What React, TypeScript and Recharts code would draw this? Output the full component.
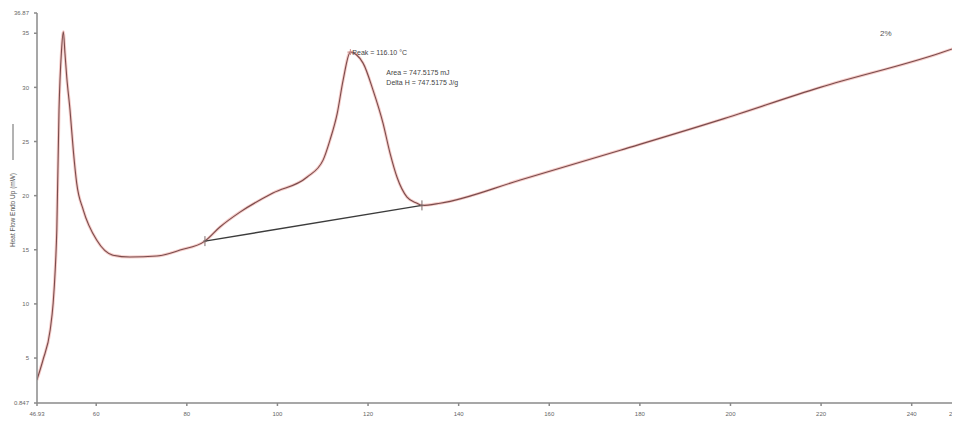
import React from "react";
import {
  ComposedChart,
  Line,
  XAxis,
  YAxis,
  ReferenceDot,
  Label,
} from "recharts";

// DSC heating scan: temperature (°C) vs heat flow (mW)
const temperatures = [
  46.9, 48.25, 49.84, 50.5, 50.95, 51.3, 51.79, 52.34, 52.74, 53.11, 53.49,
  54.22, 54.94, 55.69, 57.15, 60.1, 63.7, 67.46, 73.4, 78.5, 84.0, 87.3, 91.74,
  99.0, 106.5, 110.07, 111.6, 113.2, 114.5, 116.1, 118.9, 121.1, 123.3, 124.85,
  126.4, 128.6, 130.8, 131.9, 135.9, 153.6, 175.7, 197.7, 219.8, 246.3, 250,
];
const heatFlow = [
  2.97, 4.82, 7.59, 10.08, 13.13, 16.8, 27.9, 33.4, 35.13, 33.1, 30.98, 27.9,
  24.2, 21.16, 18.67, 15.9, 14.5, 14.33, 14.42, 14.97, 15.8, 17.1, 18.48,
  20.24, 21.7, 23.28, 25.13, 27.6, 30.67, 33.26, 32.24, 29.75, 26.7, 23.93,
  21.7, 19.87, 19.3, 19.1, 19.3, 21.44, 24.2, 27.0, 30.0, 33.17, 33.7,
];

// Integration baseline under the melting peak
const baselineTemps = [84.0, 131.9];
const baselineFlow = [15.8, 19.1];

// Peak result
const peakTemp = 116.1;
const peakFlow = 33.26;
const peakText = "Peak = 116.10 °C";
const areaText = "Area = 747.5175 mJ";
const deltaHText = "Delta H = 747.5175 J/g";
const sampleText = "2%";
const sampleTemp = 233;
const sampleFlow = 35.0;

const xTicks = [46.93, 60, 80, 100, 120, 140, 160, 180, 200, 220, 240, 250];
const yTicks = [0.847, 5, 10, 15, 20, 25, 30, 35, 36.87];

const curve = temperatures.map((t, i) => ({ t, hf: heatFlow[i] }));
const baseline = baselineTemps.map((t, i) => ({ t, hf: baselineFlow[i] }));

const CHART_W = 952;
const CHART_H = 417;
const FONT = "'Liberation Sans', Arial, sans-serif";
const AXIS = "#8a8a8a";
const TICK_TEXT = "#666";

const PeakShape = (props: any) => {
  const { cx, cy } = props;
  return (
    <g>
      <line x1={cx - 3} y1={cy} x2={cx + 3} y2={cy} stroke="#c98a88" strokeWidth={1} />
      <line x1={cx} y1={cy - 3} x2={cx} y2={cy + 3} stroke="#c98a88" strokeWidth={1} />
      <text x={cx + 2} y={cy + 3} fontSize={7} fill="#444" fontFamily={FONT}>
        {peakText}
      </text>
      <text x={cx + 36} y={cy + 23} fontSize={7} fill="#444" fontFamily={FONT}>
        {areaText}
      </text>
      <text x={cx + 36} y={cy + 33} fontSize={7} fill="#444" fontFamily={FONT}>
        {deltaHText}
      </text>
    </g>
  );
};

const EndTick = (props: any) => {
  const { cx, cy } = props;
  return (
    <g stroke="#7a6a6a" strokeWidth={1}>
      <line x1={cx} y1={cy - 5} x2={cx} y2={cy + 5} />
      <line x1={cx - 2} y1={cy} x2={cx + 2} y2={cy} />
    </g>
  );
};

const SampleShape = (props: any) => {
  const { cx, cy } = props;
  return (
    <text x={cx} y={cy + 3} fontSize={8} fill="#555" fontFamily={FONT}>
      {sampleText}
    </text>
  );
};

// X tick: a label that would run past the right edge is right-aligned instead
const XTick = (props: any) => {
  const { x, y, payload } = props;
  const nearEdge = Number(x) > CHART_W - 12;
  return (
    <g transform={`translate(${x},${y})`}>
      <text
        x={nearEdge ? CHART_W - Number(x) - 1 : 0}
        y={6}
        fontSize={6}
        fill={TICK_TEXT}
        fontFamily={FONT}
        textAnchor={nearEdge ? "end" : "middle"}
      >
        {String(payload.value)}
      </text>
    </g>
  );
};

const YTitle = (props: any) => {
  const vb = props.viewBox || { x: 0, y: 0, height: 0 };
  const x = 5;
  const cy = vb.y + vb.height * 0.5;
  return (
    <g>
      <text
        x={x}
        y={cy + 2}
        transform={`rotate(-90, ${x}, ${cy + 2})`}
        fontSize={6.5}
        fill="#555"
        fontFamily={FONT}
        textAnchor="middle"
        dominantBaseline="middle"
      >
        Heat Flow Endo Up (mW)
      </text>
      <line x1={x} y1={cy - 48} x2={x} y2={cy - 84} stroke="#666" strokeWidth={1} />
    </g>
  );
};

const XTitle = (props: any) => {
  const vb = props.viewBox || { x: 0, y: 0, width: 0 };
  return (
    <text
      x={vb.x + vb.width * 0.505}
      y={vb.y + 20}
      fontSize={6.5}
      fill="#555"
      fontFamily={FONT}
      textAnchor="middle"
    >
      Temperature (°C)
    </text>
  );
};

export default function App() {
  return (
    <div
      style={{
        width: CHART_W,
        height: CHART_H,
        marginBottom: -8,
        marginRight: -8,
        background: "#fff",
      }}
    >
      <ComposedChart
        width={CHART_W}
        height={CHART_H}
        margin={{ top: 5, right: 3, bottom: 0, left: 0 }}
      >
        <XAxis
          type="number"
          dataKey="t"
          domain={[46.93, 250]}
          ticks={xTicks}
          allowDataOverflow
          interval={0}
          height={22}
          stroke={AXIS}
          strokeWidth={1.5}
          tickSize={3}
          tickMargin={4}
          tick={(p: any) => <XTick {...p} />}
        >
          <Label content={<XTitle />} />
        </XAxis>
        <YAxis
          type="number"
          dataKey="hf"
          domain={[0.847, 36.87]}
          ticks={yTicks}
          allowDataOverflow
          interval={0}
          width={29}
          stroke={AXIS}
          strokeWidth={1.5}
          tickSize={3}
          tickMargin={5}
          tick={{ fontSize: 6, fill: TICK_TEXT, fontFamily: FONT }}
          tickFormatter={(v: number) => String(v)}
        >
          <Label content={<YTitle />} />
        </YAxis>
        <Line
          data={curve}
          dataKey="hf"
          type="monotone"
          stroke="#eea8a4"
          strokeWidth={3}
          strokeOpacity={0.6}
          dot={false}
          activeDot={false}
          isAnimationActive={false}
        />
        <Line
          data={curve}
          dataKey="hf"
          type="monotone"
          stroke="#7a4c4c"
          strokeWidth={1.1}
          dot={false}
          activeDot={false}
          isAnimationActive={false}
        />
        <Line
          data={baseline}
          dataKey="hf"
          type="linear"
          stroke="#3c3c3c"
          strokeWidth={1.4}
          dot={false}
          activeDot={false}
          isAnimationActive={false}
        />
        <ReferenceDot x={baselineTemps[0]} y={baselineFlow[0]} r={0} shape={<EndTick />} />
        <ReferenceDot x={baselineTemps[1]} y={baselineFlow[1]} r={0} shape={<EndTick />} />
        <ReferenceDot x={peakTemp} y={peakFlow} r={0} shape={<PeakShape />} />
        <ReferenceDot x={sampleTemp} y={sampleFlow} r={0} shape={<SampleShape />} />
      </ComposedChart>
    </div>
  );
}
